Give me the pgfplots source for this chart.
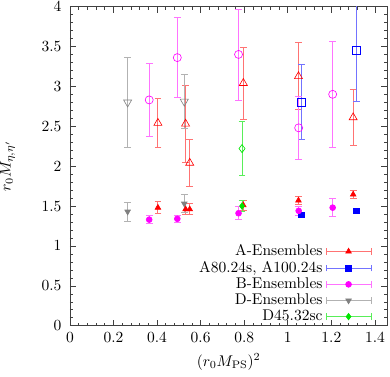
\documentclass[border=0pt]{standalone}
\usepackage{pgfplots}
\pgfplotsset{compat=1.18}
\definecolor{cR}{rgb}{1,0,0}
\definecolor{cB}{rgb}{0,0,1}
\definecolor{cM}{rgb}{1,0,1}
\definecolor{cG}{rgb}{0.5,0.5,0.5}
\definecolor{cN}{rgb}{0,0.9,0}
\pgfplotsset{
  ebar/.style={only marks,
    error bars/y dir=both, error bars/y explicit,
    error bars/error mark options={rotate=90, mark size=2.2pt, line width=0.5pt},
    error bars/error bar style={line width=0.6pt}},
  leg/.style={legend image code/.code={
    \draw[##1, line width=0.6pt] (0pt,0pt) -- (29pt,0pt);
    \draw[##1, line width=0.5pt] (0pt,-2.2pt) -- (0pt,2.2pt);
    \draw[##1, line width=0.5pt] (29pt,-2.2pt) -- (29pt,2.2pt);
    \draw[##1] plot coordinates {(14.5pt,0pt)};
  }},
}
\begin{document}
\begin{tikzpicture}
\begin{axis}[
  scale only axis, width=205pt, height=206pt,
  clip bounding box=upper bound,
  xmin=0, xmax=1.458, ymin=0, ymax=4,
  xtick={0,0.2,0.4,0.6,0.8,1,1.2,1.4},
  ytick={0,0.5,1,1.5,2,2.5,3,3.5,4},
  minor x tick num=4, minor y tick num=4,
  tick align=inside,
  major tick length=4pt, minor tick length=2pt,
  yticklabel style={xshift=-2pt, inner ysep=1pt},
  xticklabel style={yshift=-1pt},
  xlabel={$(r_0 M_{\mathrm{PS}})^2$},
  ylabel={$r_0 M_{\eta,\eta'}$},
  xlabel style={at={(axis description cs:0.5,-0.113)}, anchor=center, inner ysep=4pt},
  ylabel style={at={(axis description cs:-0.221,0.5)}, rotate=0, anchor=north, inner sep=0pt},
  axis line style={black!75},
  every tick/.style={black!75},
  legend style={at={(axis description cs:0.965,-0.012)}, anchor=south east, draw=none, fill=none,
    legend cell align=right, font=\normalsize, row sep=-2pt},
  legend plot pos=right,
]
% A ground
\addplot[leg, ebar, color=cR!55, mark=triangle*, mark size=2.1pt, mark options={draw=cR, fill=cR}]
 table[y error=e] {
 x y e
 0.404 1.48 0.075
 0.531 1.46 0.07
 0.55 1.46 0.07
 0.796 1.51 0.06
 1.049 1.57 0.05
 1.30 1.645 0.05
};
\addlegendentry{A-Ensembles}
% A80 ground
\addplot[leg, ebar, color=cB!55, mark=square*, mark size=1.85pt, mark options={draw=cB, fill=cB}]
 table[y error=e] {
 x y e
 1.063 1.39 0.02
 1.314 1.44 0.02
};
\addlegendentry{A80.24s, A100.24s}
% B ground
\addplot[leg, ebar, color=cM!55, mark=*, mark size=1.9pt, mark options={draw=cM, fill=cM}]
 table[y error=e] {
 x y e
 0.364 1.33 0.05
 0.493 1.34 0.04
 0.774 1.41 0.08
 1.05 1.44 0.06
 1.206 1.48 0.11
};
\addlegendentry{B-Ensembles}
% D ground
\addplot[leg, ebar, color=cG!60, mark=triangle*, mark size=2.1pt, mark options={draw=cG, fill=cG, rotate=180}]
 table[y error=e] {
 x y e
 0.265 1.43 0.12
 0.525 1.53 0.115
};
\addlegendentry{D-Ensembles}
% D45 ground
\addplot[leg, ebar, color=cN!65, mark=diamond*, mark size=2.1pt, mark options={draw=cN, fill=cN}]
 table[y error=e] {
 x y e
 0.79 1.50 0.07
};
\addlegendentry{D45.32sc}
% excited states
\addplot[forget plot, ebar, color=cR!55, mark=triangle, mark size=3pt, mark options={draw=cR}]
 table[y error=e] {
 x y e
 0.404 2.54 0.31
 0.531 2.53 0.48
 0.55 2.04 0.29
 0.796 3.04 0.45
 1.049 3.125 0.42
 1.30 2.61 0.35
};
\addplot[forget plot, ebar, color=cB!55, mark=square, mark size=2.4pt, mark options={draw=cB}]
 table[y error=e] {
 x y e
 1.063 2.80 0.47
 1.314 3.45 0.64
};
\addplot[forget plot, ebar, color=cM!55, mark=o, mark size=2.6pt, mark options={draw=cM}]
 table[y error=e] {
 x y e
 0.364 2.83 0.46
 0.493 3.36 0.50
 0.774 3.40 0.57
 1.05 2.48 0.39
 1.206 2.90 0.66
};
\addplot[forget plot, ebar, color=cG!60, mark=triangle, mark size=3pt, mark options={draw=cG, rotate=180}]
 table[y error=e] {
 x y e
 0.265 2.80 0.56
 0.525 2.81 0.34
};
\addplot[forget plot, ebar, color=cN!65, mark=diamond, mark size=2.6pt, mark options={draw=cN}]
 table[y error=e] {
 x y e
 0.79 2.22 0.34
};
\end{axis}
\end{tikzpicture}
\end{document}
